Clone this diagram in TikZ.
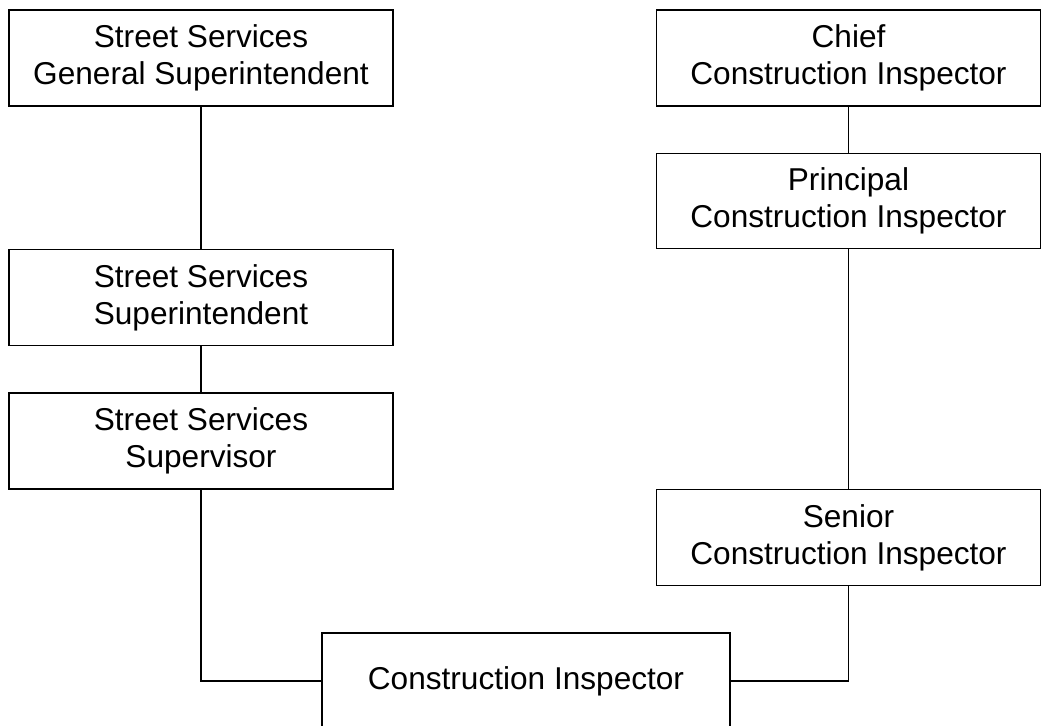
\documentclass[tikz,border=0pt]{standalone}
\usepackage{fontspec}
\setmainfont{Liberation Sans}
\begin{document}
\begin{tikzpicture}[x=1pt,y=-1pt,
  box/.style={draw=black, line width=1.3pt, inner sep=0pt, minimum width=384pt, minimum height=96pt, align=center, font=\fontsize{31.6}{37}\selectfont},
  link/.style={draw=black, line width=1.3pt}]
\useasboundingbox (0,0) rectangle (1053,726);
\node[box] (gs) at (201,58) {Street Services\\General Superintendent};
\node[box] (ci) at (848.5,58) {Chief\\Construction Inspector};
\node[box, minimum height=95pt] (pci) at (848.5,201) {Principal\\Construction Inspector};
\node[box] (ss) at (201,297.5) {Street Services\\Superintendent};
\node[box] (sv) at (201,441) {Street Services\\Supervisor};
\node[box] (sci) at (848.5,537.5) {Senior\\Construction Inspector};
\node[box, minimum width=408pt] (ins) at (526,681) {Construction Inspector};
\draw[link] (gs.south) -- (ss.north);
\draw[link] (ss.south) -- (sv.north);
\draw[link] (sv.south) |- (ins.west);
\draw[link] (ci.south) -- (pci.north);
\draw[link] (pci.south) -- (sci.north);
\draw[link] (sci.south) |- (ins.east);
\end{tikzpicture}
\end{document}
